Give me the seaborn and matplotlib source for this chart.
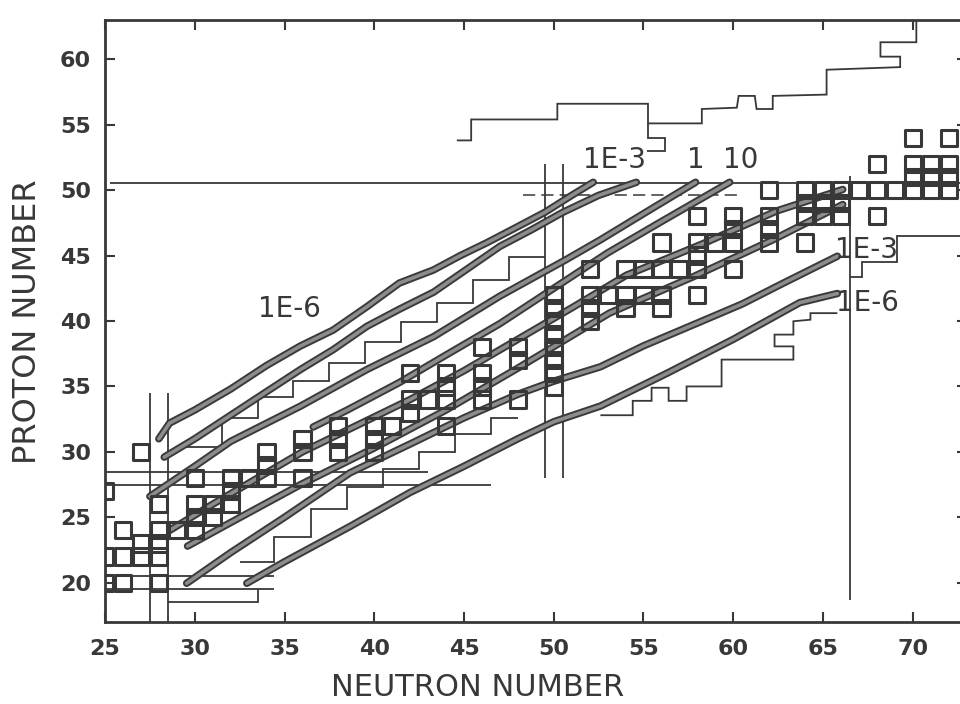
import matplotlib
matplotlib.use("Agg")
import matplotlib.pyplot as plt
import matplotlib.patheffects as pe
from matplotlib.markers import MarkerStyle
import seaborn as sns
import pandas as pd

sns.set_theme(style="white")
plt.rcParams["font.family"] = ["DejaVu Sans"]

# ---------------- data ----------------
x_ticks = [25, 30, 35, 40, 45, 50, 55, 60, 65, 70]
y_ticks = [20, 25, 30, 35, 40, 45, 50, 55, 60]

# nuclides drawn as open squares (N, Z)
square_n = [25, 26, 28,
            25, 26, 27, 28,
            27, 28,
            26, 28, 29, 30,
            30, 31,
            28, 30, 31, 32,
            25, 32,
            30, 32, 33, 34, 36,
            34,
            27, 34, 36, 38, 40,
            36, 38, 40,
            38, 40, 41, 44,
            42,
            42, 43, 44, 46, 48,
            44, 46, 50,
            42, 44, 46, 50,
            48, 50,
            46, 48, 50,
            50,
            50, 52,
            50, 52, 54, 56,
            50, 52, 53, 54, 55, 56, 58,
            52, 54, 55, 56, 57, 58, 60,
            58,
            56, 58, 59, 60, 62, 64,
            60, 62,
            58, 60, 62, 64, 65, 66, 68,
            64, 65, 66,
            62, 64, 65, 66, 67, 68, 69, 70, 71, 72,
            70, 71, 72,
            68, 70, 71, 72,
            70, 72]
square_z = [20, 20, 20,
            22, 22, 22, 22,
            23, 23,
            24, 24, 24, 24,
            25, 25,
            26, 26, 26, 26,
            27, 27,
            28, 28, 28, 28, 28,
            29,
            30, 30, 30, 30, 30,
            31, 31, 31,
            32, 32, 32, 32,
            33,
            34, 34, 34, 34, 34,
            35, 35, 35,
            36, 36, 36, 36,
            37, 37,
            38, 38, 38,
            39,
            40, 40,
            41, 41, 41, 41,
            42, 42, 42, 42, 42, 42, 42,
            44, 44, 44, 44, 44, 44, 44,
            45,
            46, 46, 46, 46, 46, 46,
            47, 47,
            48, 48, 48, 48, 48, 48, 48,
            49, 49, 49,
            50, 50, 50, 50, 50, 50, 50, 50, 50, 50,
            51, 51, 51,
            52, 52, 52, 52,
            54, 54]

# abundance contours (thick lines)
a_n = [28.0, 28.6, 30.0, 32.0, 34.0, 35.9, 37.7, 39.6, 41.4, 43.3, 44.8, 46.3, 47.7, 49.5, 51.0, 52.2]
a_z = [31.0, 32.2, 33.2, 34.8, 36.6, 38.1, 39.3, 41.1, 42.9, 43.9, 45.0, 46.0, 47.0, 48.3, 49.6, 50.6]
b_n = [28.3, 30.0, 32.0, 34.0, 35.9, 37.7, 39.6, 41.4, 43.3, 45.1, 47.0, 48.8, 50.5, 52.5, 54.6]
b_z = [29.6, 31.0, 32.8, 34.6, 36.3, 37.8, 39.6, 40.9, 42.2, 43.9, 45.7, 47.0, 48.3, 49.6, 50.6]
c_n = [27.5, 30.0, 32.0, 35.9, 39.6, 43.3, 47.0, 50.7, 52.6, 55.0, 57.9]
c_z = [26.6, 28.9, 30.8, 33.5, 36.3, 38.8, 41.9, 44.7, 46.2, 48.2, 50.6]
d_n = [36.6, 38.5, 41.4, 44.0, 47.0, 50.0, 53.0, 56.0, 59.8]
d_z = [31.9, 33.2, 35.3, 37.4, 39.8, 42.5, 45.2, 47.6, 50.6]
g1_n = [28.6, 31.0, 33.5, 36.0, 39.0, 42.0, 45.0, 48.0, 51.0, 54.05, 58.3, 62.4, 66.1]
g1_z = [24.0, 26.0, 28.0, 30.0, 32.0, 34.0, 36.2, 38.6, 41.0, 43.5, 45.9, 48.4, 50.05]
g2_n = [29.6, 32.0, 35.9, 40.0, 44.0, 48.0, 53.1, 57.8, 62.2, 66.1]
g2_z = [22.8, 24.6, 27.5, 30.3, 33.2, 36.4, 40.6, 43.4, 46.2, 48.9]
e_n = [29.55, 32.0, 35.0, 38.65, 42.0, 45.0, 48.0, 50.0, 52.6, 55.0, 58.1, 60.5, 62.8, 65.8]
e_z = [19.96, 22.3, 25.0, 28.4, 30.6, 32.6, 34.4, 35.4, 36.5, 38.1, 39.9, 41.3, 42.9, 44.95]
f_n = [32.9, 35.0, 38.65, 42.0, 45.0, 48.0, 50.0, 52.6, 56.3, 60.0, 63.7, 65.8]
f_z = [19.96, 21.6, 24.3, 26.9, 28.9, 31.0, 32.3, 33.5, 36.0, 38.6, 41.4, 42.1]

# thin stepped boundaries
top_n = [44.6, 45.4, 45.4, 50.2, 50.2, 55.25, 55.25, 58.25, 58.25, 60.2, 60.3, 61.2, 61.3, 62.2,
         62.2, 65.2, 65.2, 69.3, 69.3, 68.2, 68.2, 70.2, 70.2]
top_z = [53.8, 53.8, 55.4, 55.4, 56.6, 56.6, 55.1, 55.1, 56.2, 56.3, 57.2, 57.2, 56.2, 56.2,
         57.2, 57.3, 59.2, 59.4, 60.2, 60.2, 61.3, 61.3, 63.0]
hook_n = [55.25, 55.25, 56.2, 56.2, 55.2]
hook_z = [55.1, 54.0, 54.0, 53.0, 53.0]
up_n = [29.5, 31.5, 31.5, 33.5, 33.5, 35.5, 35.5, 37.5, 37.5, 39.5, 39.5, 41.5, 41.5, 43.5,
        43.5, 45.5, 45.5, 47.5, 47.5, 49.5]
up_z = [30.4, 30.4, 32.6, 32.6, 34.2, 34.2, 35.4, 35.4, 36.8, 36.8, 38.4, 38.4, 39.9, 39.9,
        41.4, 41.4, 43.1, 43.1, 44.9, 44.9]
mid_n = [32.5, 34.4, 34.4, 36.5, 36.5, 38.5, 38.5, 40.5, 40.5, 42.5, 42.5, 44.5, 44.5, 46.5,
         46.5, 48.0]
mid_z = [21.6, 21.6, 23.5, 23.5, 25.6, 25.6, 27.3, 27.3, 28.7, 28.7, 30.0, 30.0, 31.4, 31.4,
         32.6, 32.6]
low_n = [52.6, 54.4, 54.4, 55.45, 55.45, 56.4, 56.4, 57.4, 57.4, 59.35, 59.35, 63.35, 63.35,
         62.3, 62.3, 63.35, 63.35, 64.3, 64.3, 65.8]
low_z = [32.8, 32.8, 33.9, 33.9, 34.9, 34.9, 33.9, 33.9, 35.0, 35.0, 37.05, 37.05, 38.06,
         38.06, 38.96, 38.96, 39.98, 40.1, 40.6, 40.6]
right_n = [66.5, 67.2, 67.2, 69.1, 69.1, 73.0]
right_z = [43.4, 43.4, 44.5, 44.5, 46.5, 46.5]
base_n = [28.5, 33.5, 33.5]
base_z = [18.5, 18.5, 19.5]

# shell-closure guide lines (segments)
vlines = [(27.5, 17.0, 34.5), (28.5, 17.0, 34.5), (49.5, 28.0, 52.0), (50.5, 28.0, 52.0),
          (66.5, 18.7, 51.1)]
hlines = [(50.55, 25.3, 73.0), (28.5, 25.0, 43.0), (27.5, 25.0, 46.5),
          (20.5, 25.0, 34.4), (19.5, 25.0, 34.4)]
dashed_h = [(49.6, 48.3, 60.4)]

labels = [("1E-6", 35.3, 40.9), ("1E-3", 53.4, 52.3), ("1", 57.9, 52.3),
          ("10", 60.4, 52.3), ("1E-3", 67.45, 45.4), ("1E-6", 67.45, 41.4)]

# ---------------- figure ----------------
fig = plt.figure(figsize=(9.6, 7.04), dpi=100)
ax = fig.add_axes([105 / 960, 82 / 704, 861.6 / 960, 602 / 704])
ax.set_xlim(25, 73)
ax.set_ylim(17, 63)

ink = "#383838"
thin = dict(color=ink, lw=1.3, solid_capstyle="butt", solid_joinstyle="miter")

for x, y0, y1 in vlines:
    ax.plot([x, x], [y0, y1], **thin)
for y, x0, x1 in hlines:
    ax.plot([x0, x1], [y, y], **thin)
for y, x0, x1 in dashed_h:
    ax.plot([x0, x1], [y, y], color=ink, lw=1.1, ls=(0, (8, 4)))

for xs, ys in [(top_n, top_z), (hook_n, hook_z), (up_n, up_z), (mid_n, mid_z),
               (low_n, low_z), (right_n, right_z), (base_n, base_z)]:
    ax.plot(xs, ys, **thin)

thick_fx = [pe.Stroke(linewidth=5.4, foreground="#3a3a3a"), pe.Normal()]
for xs, ys in [(a_n, a_z), (b_n, b_z), (c_n, c_z), (d_n, d_z), (g1_n, g1_z),
               (g2_n, g2_z), (e_n, e_z), (f_n, f_z)]:
    ax.plot(xs, ys, color="#8c8c8c", lw=2.6, solid_capstyle="round",
            solid_joinstyle="round", path_effects=thick_fx, zorder=3)

sq = pd.DataFrame({"N": square_n, "Z": square_z})
sns.scatterplot(data=sq, x="N", y="Z", marker=MarkerStyle("s", joinstyle="round"),
                s=135, facecolor="none", edgecolor=ink, linewidth=2.2, ax=ax,
                zorder=4, legend=False)

for txt, x, y in labels:
    ax.text(x, y, txt, fontsize=20, color=ink, ha="center", va="center", zorder=5)

ax.set_xticks(x_ticks)
ax.set_yticks(y_ticks)
ax.tick_params(axis="both", direction="in", length=7, width=1.5, colors=ink, labelsize=16,
               top=True, right=True, left=True, bottom=True)
ax.tick_params(axis="x", pad=12)
ax.tick_params(axis="y", pad=10)
for t in ax.get_xticklabels() + ax.get_yticklabels():
    t.set_fontweight("bold")
for s in ax.spines.values():
    s.set_linewidth(2.0)
    s.set_color(ink)
ax.set_xlabel("")
ax.set_ylabel("")

fig.text(478 / 960, 1 - 688 / 704, "NEUTRON NUMBER", fontsize=22, color=ink,
         ha="center", va="center")
fig.text(28 / 960, 1 - 322 / 704, "PROTON NUMBER", fontsize=23, color=ink,
         ha="center", va="center", rotation=90)

fig.savefig("out.png", dpi=100)
